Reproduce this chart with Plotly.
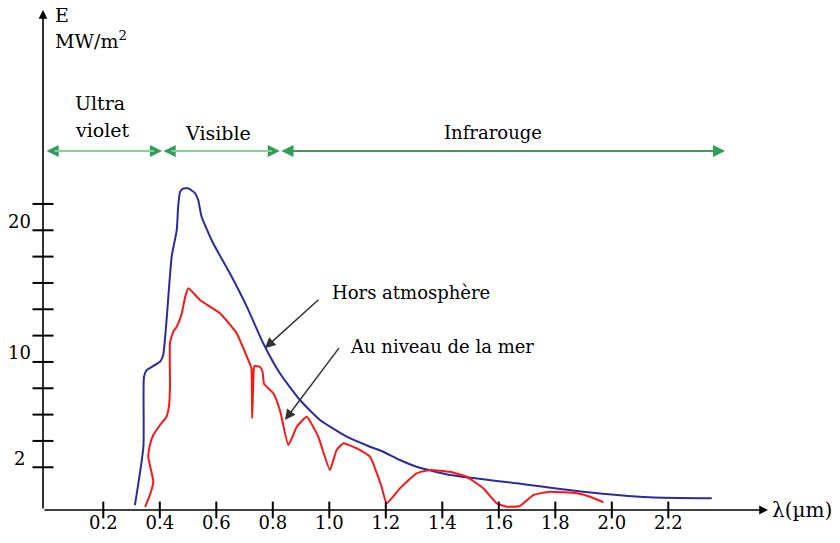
import plotly.graph_objects as go

# ---- data ----
hors_x = [0.312, 0.342, 0.344, 0.354, 0.383, 0.401, 0.412, 0.424, 0.442, 0.460, 0.465, 0.472,
          0.482, 0.500, 0.525, 0.536, 0.548, 0.589, 0.648, 0.708, 0.766, 0.825, 0.896, 0.967,
          1.062, 1.144, 1.191, 1.250, 1.309, 1.427, 1.663, 1.899, 2.135, 2.354]
hors_y = [-0.87, 3.56, 8.88, 9.39, 9.77, 10.02, 10.53, 13.19, 17.99, 20.02, 21.79, 22.93,
          23.17, 23.19, 22.81, 22.30, 21.03, 19.01, 16.73, 14.20, 11.42, 9.14, 7.11, 5.59,
          4.32, 3.56, 3.18, 2.55, 2.04, 1.41, 0.78, 0.14, -0.28, -0.36]

mer_x = [0.348, 0.365, 0.377, 0.369, 0.359, 0.365, 0.377, 0.401, 0.424, 0.433, 0.436, 0.436,
         0.447, 0.460, 0.478, 0.489, 0.501, 0.542, 0.613, 0.672, 0.713, 0.724, 0.727, 0.732,
         0.735, 0.755, 0.764, 0.769, 0.802, 0.825, 0.855, 0.885, 0.920, 0.961, 1.002, 1.026,
         1.050, 1.109, 1.144, 1.185, 1.203, 1.250, 1.309, 1.356, 1.427, 1.486, 1.545, 1.593,
         1.628, 1.675, 1.722, 1.781, 1.876, 1.923, 1.970]
mer_y = [-1.00, -0.11, 0.90, 1.79, 2.80, 3.69, 4.45, 5.21, 5.84, 6.73, 8.12, 11.42,
         12.27, 12.68, 13.70, 14.86, 15.59, 14.71, 13.70, 12.18, 10.15, 9.54, 5.72, 9.24,
         9.69, 9.62, 9.24, 8.33, 7.62, 6.35, 3.69, 5.08, 5.84, 4.32, 1.79, 3.31,
         3.82, 3.31, 2.80, 0.52, -0.74, 0.40, 1.54, 1.79, 1.66, 1.28, 0.40, -0.74,
         -1.00, -0.94, -0.11, 0.14, 0.02, -0.24, -0.66]

x_ticks = [0.2, 0.4, 0.6, 0.8, 1.0, 1.2, 1.4, 1.6, 1.8, 2.0, 2.2]
y_ticks = [2, 4, 6, 8, 10, 12, 14, 16, 18, 20, 22]
y_labels = [2, 10, 20]

bands = ["Ultra violet", "Visible", "Infrarouge"]
band_edges = [-0.006, 0.408, 0.825, 2.401]

X0, X1 = -0.01345, 2.8078
Y0, Y1 = -1.2457, 37.49

FONT = "DejaVu Serif"
fig = go.Figure()

fig.add_trace(go.Scatter(x=hors_x, y=hors_y, mode="lines",
                         line=dict(color="#2b2b9e", width=2, shape="spline", smoothing=0.5),
                         hoverinfo="skip"))
fig.add_trace(go.Scatter(x=mer_x, y=mer_y, mode="lines",
                         line=dict(color="#ff1414", width=2, shape="spline", smoothing=0.4),
                         hoverinfo="skip"))

# crossing tick marks
fig.add_trace(go.Scatter(x=x_ticks, y=[Y0] * len(x_ticks), mode="markers", cliponaxis=False,
                         marker=dict(symbol="line-ns", size=12, line=dict(color="black", width=2)),
                         hoverinfo="skip"))
fig.add_trace(go.Scatter(x=[X0] * len(y_ticks), y=y_ticks, mode="markers", cliponaxis=False,
                         marker=dict(symbol="line-ew", size=15, line=dict(color="black", width=2)),
                         hoverinfo="skip"))

ann = []
# axes as arrows
ann.append(dict(x=X0, y=(493.6 - 10) / 13.165, ax=X0, ay=Y0, xref="x", yref="y", axref="x", ayref="y",
                text="", showarrow=True, arrowhead=2, arrowsize=1.1, arrowwidth=1.6, arrowcolor="black"))
ann.append(dict(x=(768 - 46.8) / 282.5, y=Y0, ax=X0, ay=Y0, xref="x", yref="y", axref="x", ayref="y",
                text="", showarrow=True, arrowhead=2, arrowsize=1.1, arrowwidth=1.6, arrowcolor="black"))

# y tick labels
for v in y_labels:
    ann.append(dict(x=0, xref="paper", y=v, yref="y", text=str(v), showarrow=False,
                    xanchor="center", yanchor="middle", xshift=-24, yshift=9,
                    font=dict(family=FONT, size=18, color="black")))

# band arrows
band_y = 26.02
band_colors = ["#86cf96", "#86cf96", "#3c9c5c"]
for i in range(3):
    ann.append(dict(x=band_edges[i + 1], y=band_y, ax=band_edges[i], ay=band_y,
                    xref="x", yref="y", axref="x", ayref="y", text="", showarrow=True,
                    arrowhead=2, startarrowhead=2, arrowside="end+start", arrowsize=1.1,
                    startarrowsize=1.1, arrowwidth=2.2, arrowcolor="#2e9e58"))
    ann.append(dict(x=band_edges[i + 1], y=band_y, ax=band_edges[i], ay=band_y,
                    xref="x", yref="y", axref="x", ayref="y", text="", showarrow=True,
                    arrowhead=0, arrowwidth=2.2, arrowcolor=band_colors[i], standoff=8, startstandoff=8))

tf = dict(family=FONT, size=18, color="black")
tb = dict(family=FONT, size=19, color="black")
ann.append(dict(x=0.093, y=29.66, text="Ultra", showarrow=False, xanchor="left", yanchor="middle", font=tb))
ann.append(dict(x=0.093, y=27.61, text="violet", showarrow=False, xanchor="left", yanchor="middle", font=tb))
ann.append(dict(x=0.606, y=27.39, text="Visible", showarrow=False, xanchor="center", yanchor="middle", font=tb))
ann.append(dict(x=1.580, y=27.39, text="Infrarouge", showarrow=False, xanchor="center", yanchor="middle", font=tf))
ann.append(dict(x=0.022, y=36.35, text="E", showarrow=False, xanchor="left", yanchor="middle", font=tb))
ann.append(dict(x=0.022, y=34.45, text="MW/m<sup>2</sup>", showarrow=False, xanchor="left", yanchor="middle", font=tb))
ann.append(dict(x=1.003, y=15.31, text="Hors atmosphère", showarrow=False, xanchor="left", yanchor="middle", font=tf))
ann.append(dict(x=1.066, y=11.14, text="Au niveau de la mer", showarrow=False, xanchor="left", yanchor="middle", font=tf))
ann.append(dict(x=2.560, y=Y0, text="λ(µm)", showarrow=False, xanchor="left", yanchor="middle",
                font=dict(family=FONT, size=20, color="black")))

# pointer arrows
ann.append(dict(x=0.772, y=11.04, ax=0.967, ay=14.83, xref="x", yref="y", axref="x", ayref="y",
                text="", showarrow=True, arrowhead=2, arrowsize=1.4, arrowwidth=1.5, arrowcolor="#333333"))
ann.append(dict(x=0.843, y=5.59, ax=1.038, ay=11.16, xref="x", yref="y", axref="x", ayref="y",
                text="", showarrow=True, arrowhead=2, arrowsize=1.4, arrowwidth=1.5, arrowcolor="#333333"))

fig.update_layout(
    width=840, height=543,
    margin=dict(l=43, r=0, t=0, b=33),
    paper_bgcolor="white", plot_bgcolor="white",
    showlegend=False,
    annotations=ann,
    xaxis=dict(range=[X0, X1], showgrid=False, zeroline=False, showline=False,
               tickvals=x_ticks, tickformat=".1f", ticks="",
               tickfont=dict(family=FONT, size=18, color="black")),
    yaxis=dict(range=[Y0, Y1], showgrid=False, zeroline=False, showline=False,
               showticklabels=False, ticks=""),
)

fig.write_html("out.html")
